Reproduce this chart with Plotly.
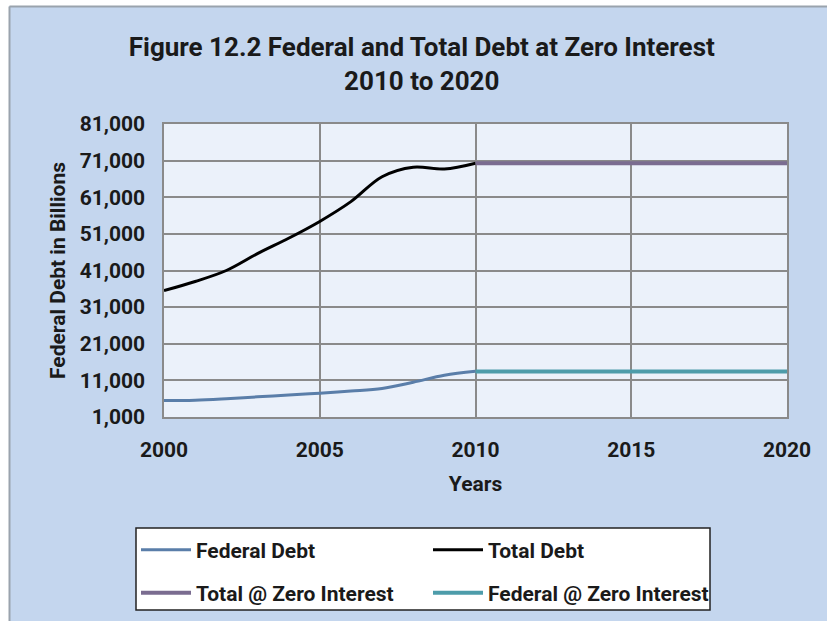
import plotly.graph_objects as go

# Historical debt, billions of dollars
years = [2000, 2001, 2002, 2003, 2004, 2005, 2006, 2007, 2008, 2009, 2010]
federal_debt = [5500, 5600, 6000, 6500, 7000, 7500, 8100, 8800, 10500, 12400, 13500]
total_debt = [35500, 38000, 41000, 45600, 49800, 54400, 59800, 66600, 69200, 68700, 70300]

# Projection with zero interest, 2010 to 2020
zero_years = [2010, 2020]
total_zero = [70300, 70300]
federal_zero = [13400, 13400]

x_ticks = [2000, 2005, 2010, 2015, 2020]

FONT = "Roboto, Liberation Sans, sans-serif"
TXT = "#1a1a1a"
BG = "#C4D6EE"

# plot area in pixels
W, H = 827, 621
L, R, T, B = 164, 787, 124, 417


def px(x):
    return (x - L) / (R - L)


def py(y):
    return (B - y) / (B - T)


fig = go.Figure()
fig.add_trace(go.Scatter(x=years, y=federal_debt, name="Federal Debt", mode="lines",
                         line=dict(color="#5A7EA9", width=3, shape="spline"), legend="legend"))
fig.add_trace(go.Scatter(x=years, y=total_debt, name="Total Debt", mode="lines",
                         line=dict(color="#000000", width=3, shape="spline"), legend="legend"))
fig.add_trace(go.Scatter(x=zero_years, y=total_zero, name="Total @ Zero Interest", mode="lines",
                         line=dict(color="#7A6C90", width=4), legend="legend2"))
fig.add_trace(go.Scatter(x=zero_years, y=federal_zero, name="Federal @ Zero Interest", mode="lines",
                         line=dict(color="#4D9CAA", width=4), legend="legend2"))

legend_common = dict(orientation="h", bgcolor="rgba(0,0,0,0)", borderwidth=0,
                     font=dict(family=FONT, size=21, color=TXT, weight="bold"),
                     itemwidth=50, entrywidth=227, entrywidthmode="pixels",
                     xanchor="left", yanchor="middle", traceorder="normal")

axis_font = dict(family=FONT, size=21, color=TXT, weight="bold")

fig.update_layout(
    width=W, height=H,
    margin=dict(l=L, r=W - R, t=T, b=H - B, pad=0, autoexpand=False),
    paper_bgcolor=BG,
    plot_bgcolor="#EBF1FA",
    showlegend=True,
    title=dict(text="Figure 12.2 Federal and Total Debt at Zero Interest<br>2010 to 2020",
               x=0.51, xanchor="center", y=1 - 56 / H, yanchor="middle",
               font=dict(family=FONT, size=26, color=TXT, weight="bold")),
    xaxis=dict(range=[2000, 2020], tickvals=x_ticks, ticktext=[str(v) for v in x_ticks],
               showgrid=True, gridcolor="#8A8A8A", gridwidth=1.5,
               showline=True, linecolor="#8A8A8A", linewidth=1.5, mirror=True,
               ticks="outside", ticklen=13, tickcolor="rgba(0,0,0,0)",
               tickfont=axis_font, automargin=False,
               title=dict(text="Years", standoff=15, font=axis_font),
               zeroline=False),
    yaxis=dict(range=[1000, 81000], tick0=1000, dtick=10000, tickformat=",",
               showgrid=True, gridcolor="#8A8A8A", gridwidth=1.5,
               showline=True, linecolor="#8A8A8A", linewidth=1.5, mirror=True,
               ticks="outside", ticklen=13, tickcolor="rgba(0,0,0,0)",
               tickfont=axis_font, automargin=False,
               title=dict(text="Federal Debt in Billions", standoff=8, font=axis_font),
               zeroline=False),
    legend=dict(legend_common, x=px(136), y=py(550)),
    legend2=dict(legend_common, x=px(136), y=py(593)),
    shapes=[
        # white strips and frame edge at the top-left of the chart area
        dict(type="rect", xref="paper", yref="paper", x0=px(-5), x1=px(9), y0=py(-5), y1=py(630),
             fillcolor="white", line=dict(width=0), layer="above"),
        dict(type="rect", xref="paper", yref="paper", x0=px(-5), x1=px(840), y0=py(-5), y1=py(6),
             fillcolor="white", line=dict(width=0), layer="above"),
        dict(type="line", xref="paper", yref="paper", x0=px(9.5), x1=px(9.5), y0=py(6.5), y1=py(630),
             line=dict(color="#9AA3AD", width=2)),
        dict(type="line", xref="paper", yref="paper", x0=px(9.5), x1=px(840), y0=py(6.5), y1=py(6.5),
             line=dict(color="#9AA3AD", width=2)),
        # legend box
        dict(type="rect", xref="paper", yref="paper", x0=px(136), x1=px(710), y0=py(610), y1=py(528),
             fillcolor="white", line=dict(color="#222222", width=1.5), layer="below"),
    ],
)

fig.write_html("out.html")
